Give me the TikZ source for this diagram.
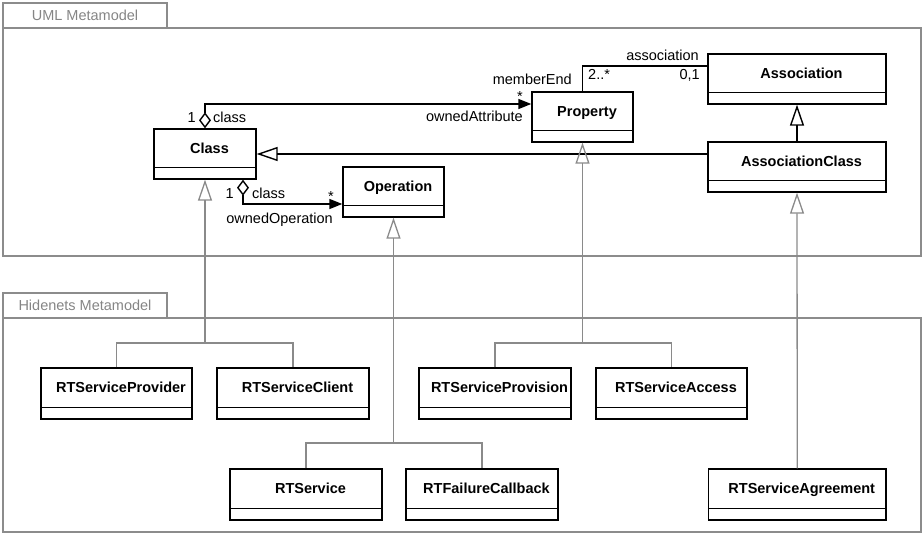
\documentclass[tikz,border=0pt]{standalone}
\usepackage{fontspec}
\setmainfont{Liberation Sans}
\usetikzlibrary{arrows.meta}
\definecolor{framegray}{HTML}{8C8C8C}
\definecolor{linkgray}{HTML}{8A8A8A}
\definecolor{titlegray}{HTML}{858585}

% class box: name, x1, y1, x2, y2, title (12pt attribute compartment at the bottom)
\newcommand\umlbox[6]{%
  \node[classbox, minimum width={#4-#2}, minimum height={#5-#3}] (#1) at ({(#2+#4)/2},{(#3+#5)/2}) {};
  \draw[boxline] ([yshift=12pt]#1.south west) -- ([yshift=12pt]#1.south east);
  \node[classname] (#1-name) at ({(#2+#4)/2+4.5},{(#3+#5-12)/2}) {#6};
}

\begin{document}
\begin{tikzpicture}[x=1pt,y=-1pt,
  every node/.style={font=\fontsize{14.5}{17}\selectfont, inner sep=0pt,
    text height=10.4pt, text depth=0pt},
  classbox/.style={draw=black, line width=1.4pt, fill=white},
  boxline/.style={draw=black, line width=1.4pt},
  classname/.style={font=\fontsize{14.5}{17}\selectfont\bfseries},
  frameline/.style={draw=framegray, line width=1.1pt},
  tabtitle/.style={frameline, text=titlegray},
  assocline/.style={draw=black, line width=1.4pt},
  owner/.style={{Diamond[open,length=16pt,width=12pt]}-{Triangle[length=13pt,width=10pt]}},
  genblack/.style={draw=black, line width=1.4pt, -{Triangle[open,length=21pt,width=14pt]}},
  gengray/.style={draw=linkgray, line width=1.3pt},
  gentip/.style={-{Triangle[open,length=21pt,width=14pt]}},
]
\useasboundingbox (0,0) rectangle (924,534);

% package frames
\node[frameline, minimum width=918, minimum height=228] (umlframe) at (462,142) {};
\node[tabtitle, minimum width=164, minimum height=25] (umltab) at (85,15.5) {UML Metamodel};
\node[frameline, minimum width=918, minimum height=214] (hnframe) at (462,425) {};
\node[tabtitle, minimum width=164, minimum height=25] (hntab) at (85,305.5) {Hidenets Metamodel};

% UML metaclasses
\umlbox{cls}{154}{129}{256}{179}{Class}
\umlbox{prop}{532}{92}{633}{142}{Property}
\umlbox{assoc}{708}{54}{886}{104}{Association}
\umlbox{acls}{708}{142}{886}{192}{AssociationClass}
\umlbox{op}{343}{167}{444}{217}{Operation}

% Hidenets metaclasses
\umlbox{rtprov}{41}{368}{192}{419}{RTServiceProvider}
\umlbox{rtclient}{217}{368}{369}{419}{RTServiceClient}
\umlbox{rtprovision}{419}{368}{571}{419}{RTServiceProvision}
\umlbox{rtaccess}{596}{368}{747}{419}{RTServiceAccess}
\umlbox{rtsvc}{230}{469}{382}{520}{RTService}
\umlbox{rtfail}{406}{469}{558}{520}{RTFailureCallback}
\umlbox{rtagree}{708.5}{469}{886}{520}{RTServiceAgreement}

% associations
\draw[assocline, owner] (cls.north) |- ([yshift=13pt]prop.west);
\draw[assocline, owner] ([xshift=38pt]cls.south) |- ([yshift=-12pt]op.west);
\draw[assocline] (prop.north) |- ([yshift=13pt]assoc.west);

% generalizations inside the UML package
\draw[genblack] (acls.north) -- (assoc.south);
\draw[genblack] (cls.east -| acls.west) -- (cls.east);

% extensions from the Hidenets package
\coordinate (clsjoin) at (cls.south |- 0,343);
\draw[gengray] (rtprov.north) |- (clsjoin) -| (rtclient.north);
\draw[gengray, gentip] (clsjoin) -- (cls.south);

\coordinate (opjoin) at (op.south |- 0,443);
\draw[gengray] (rtsvc.north) |- (opjoin) -| (rtfail.north);
\draw[gengray, gentip] (opjoin) -- (op.south);

\coordinate (propjoin) at (prop.south |- 0,343);
\draw[gengray] (rtprovision.north) |- (propjoin) -| (rtaccess.north);
\draw[gengray, gentip] (propjoin) -- (prop.south);

\draw[gengray, gentip] (rtagree.north) -- (acls.south);

% association end labels
\node[anchor=east] (oneA) at (196,117) {1};
\node[anchor=west] (classA) at (213,117) {class};
\node[anchor=east] (memberend) at (572,79) {memberEnd};
\node (starA) at (520,96) {*};
\node[anchor=east] (ownedattr) at (523,116) {ownedAttribute};
\node[anchor=west] (twostar) at (588,74) {2..*};
\node[anchor=east] (zeroone) at (700,74) {0,1};
\node[anchor=east] (assocend) at (699,55) {association};
\node[anchor=east] (oneB) at (234,193) {1};
\node[anchor=west] (classB) at (252,193) {class};
\node (starB) at (331,196) {*};
\node[anchor=east] (ownedop) at (333,218) {ownedOperation};
\end{tikzpicture}
\end{document}
